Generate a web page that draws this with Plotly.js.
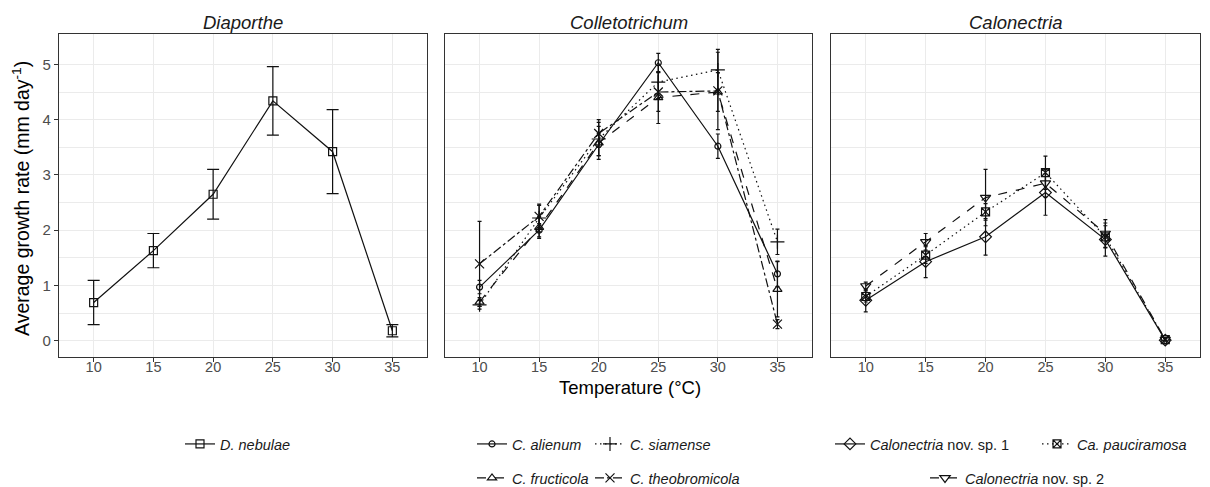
<!DOCTYPE html>
<html>
<head>
<meta charset="utf-8">
<script src="https://cdn.plot.ly/plotly-3.0.1.min.js"></script>
<style>html,body{margin:0;padding:0;background:#fff;}#chart{width:1210px;height:487px;}</style>
</head>
<body>
<div id="chart"></div>
<script>
// ---- data ----
const temps = [10, 15, 20, 25, 30, 35];
const tickVals = [10, 15, 20, 25, 30, 35];
const tickText = ['10', '15', '20', '25', '30', '35'];
const yTickVals = [0, 1, 2, 3, 4, 5];

const panelTitles = ['Diaporthe', 'Colletotrichum', 'Calonectria'];

const dNebulae = [0.69, 1.63, 2.65, 4.34, 3.42, 0.18];
const dNebulaeErr = [0.40, 0.31, 0.45, 0.62, 0.76, 0.11];

const cAlienum = [0.97, 2.00, 3.55, 5.03, 3.52, 1.21];
const cAlienumErr = [0.12, 0.12, 0.20, 0.17, 0.22, 0.23];
const cSiamense = [0.65, 2.22, 3.65, 4.68, 4.90, 1.79];
const cSiamenseErr = [0.08, 0.25, 0.30, 0.30, 0.37, 0.23];
const cFructicola = [0.70, 2.05, 3.58, 4.40, 4.50, 0.93];
const cFructicolaErr = [0.08, 0.20, 0.30, 0.47, 0.35, 0.50];
const cTheobromicola = [1.39, 2.25, 3.75, 4.50, 4.52, 0.30];
const cTheobromicolaErr = [0.77, 0.20, 0.25, 0.35, 0.70, 0.08];

const calNov1 = [0.73, 1.43, 1.88, 2.68, 1.83, 0.01];
const calNov1Err = [0.21, 0.29, 0.33, 0.41, 0.30, 0.02];
const calPauci = [0.80, 1.55, 2.33, 3.04, 1.88, 0.02];
const calPauciErr = [0.10, 0.15, 0.15, 0.30, 0.20, 0.02];
const calNov2 = [0.99, 1.79, 2.59, 2.85, 1.94, 0.02];
const calNov2Err = [0.07, 0.15, 0.51, 0.25, 0.25, 0.02];

// ---- styling ----
const FONT = 'Liberation Sans, Arial, Helvetica, sans-serif';
const DOTTED = '1.5px,3.5px';
function series(name, y, err, xa, ya, dash, symbol, msize, capw, legend, lw) {
  return {
    type: 'scatter', mode: 'lines+markers', name: name,
    x: temps, y: y, xaxis: xa, yaxis: ya, legend: legend, legendwidth: lw,
    line: {color: '#111', width: 1.2, dash: dash},
    marker: {symbol: symbol, size: msize, color: '#111', line: {color: '#111', width: 1.2}},
    error_y: {type: 'data', array: err, visible: true, color: '#111', thickness: 1.2, width: capw},
    hoverinfo: 'x+y'
  };
}

const data = [
  series('<i>D. nebulae</i>', dNebulae, dNebulaeErr, 'x', 'y', 'solid', 'square-open', 8, 6, 'legend', 110),
  series('<i>C. alienum</i>', cAlienum, cAlienumErr, 'x2', 'y2', 'solid', 'circle-open', 6, 2, 'legend2', 73),
  series('<i>C. siamense</i>', cSiamense, cSiamenseErr, 'x2', 'y2', DOTTED, 'cross-thin-open', 10, 2, 'legend2', 130),
  series('<i>C. fructicola</i>', cFructicola, cFructicolaErr, 'x2', 'y2', 'dash', 'triangle-up-open', 8, 2, 'legend3', 73),
  series('<i>C. theobromicola</i>', cTheobromicola, cTheobromicolaErr, 'x2', 'y2', 'dashdot', 'x-thin-open', 9, 2, 'legend3', 140),
  series('<i>Calonectria</i> nov. sp. 1', calNov1, calNov1Err, 'x3', 'y3', 'solid', 'diamond-open', 9, 2, 'legend4', 162),
  series('<i>Ca. pauciramosa</i>', calPauci, calPauciErr, 'x3', 'y3', DOTTED, 'square-x-open', 8, 2, 'legend4', 125),
  series('<i>Calonectria</i> nov. sp. 2', calNov2, calNov2Err, 'x3', 'y3', 'dash', 'triangle-down-open', 9, 2, 'legend5', 170)
];

const W = 1210, H = 487, ML = 59, MR = 10, MT = 34, MB = 130;
const PW = W - ML - MR, PH = H - MT - MB;
const px = v => (v - ML) / PW;
const py = v => (H - MB - v) / PH;

const domains = [[px(59), px(427)], [px(445), px(812)], [px(831), px(1200)]];

function xaxis(dom) {
  return {
    domain: dom, range: [7.1, 37.9], tickmode: 'array', tickvals: tickVals, ticktext: tickText,
    showgrid: true, gridcolor: '#ebebeb', gridwidth: 1, zeroline: false,
    showline: true, mirror: true, linecolor: '#333', linewidth: 1.2,
    ticks: 'outside', ticklen: 4, tickcolor: '#333', tickwidth: 1,
    ticklabelstandoff: -8,
    tickfont: {family: FONT, size: 14.5, color: '#4d4d4d'}
  };
}
function yaxis(showLabels, anchor) {
  return {
    anchor: anchor, range: [-0.295, 5.55], tickmode: 'array', tickvals: yTickVals,
    showticklabels: showLabels, ticks: showLabels ? 'outside' : '', ticklen: 4, tickcolor: '#333',
    showgrid: true, gridcolor: '#ebebeb', gridwidth: 1, zeroline: false,
    minor: {tickmode: 'array', tickvals: [-0.5, 0.5, 1.5, 2.5, 3.5, 4.5], showgrid: true, gridcolor: '#ebebeb', gridwidth: 1, ticks: ''},
    showline: true, mirror: true, linecolor: '#333', linewidth: 1.2,
    tickfont: {family: FONT, size: 15, color: '#4d4d4d'}
  };
}

function legendAt(x, y) {
  return {
    orientation: 'h', x: x, y: y, xanchor: 'left', yanchor: 'middle',
    entrywidthmode: 'pixels', itemwidth: 30,
    font: {family: FONT, size: 14.5, color: '#1a1a1a'}, bgcolor: 'rgba(0,0,0,0)',
    itemclick: false, itemdoubleclick: false
  };
}

const row1 = py(444), row2 = py(478);

const annotations = panelTitles.map((t, i) => ({
  text: '<i>' + t + '</i>', xref: 'paper', yref: 'paper',
  x: (domains[i][0] + domains[i][1]) / 2, y: py(22), xanchor: 'center', yanchor: 'middle',
  showarrow: false, font: {family: FONT, size: 18.5, color: '#1a1a1a'}
}));
annotations.push({
  text: 'Temperature (°C)', xref: 'paper', yref: 'paper', x: 0.5, y: py(387),
  xanchor: 'center', yanchor: 'middle', showarrow: false,
  font: {family: FONT, size: 18.5, color: '#000'}
});
annotations.push({
  text: 'Average growth rate (mm day<sup>-1</sup>)', xref: 'paper', yref: 'paper',
  x: px(21), y: py(199), xanchor: 'center', yanchor: 'middle', textangle: -90, showarrow: false,
  font: {family: FONT, size: 19.5, color: '#000'}
});

const layout = {
  width: W, height: H,
  margin: {l: ML, r: MR, t: MT, b: MB, autoexpand: false},
  paper_bgcolor: '#fff', plot_bgcolor: '#fff',
  font: {family: FONT},
  showlegend: true,
  xaxis: Object.assign(xaxis(domains[0]), {anchor: 'y'}),
  xaxis2: Object.assign(xaxis(domains[1]), {anchor: 'y2'}),
  xaxis3: Object.assign(xaxis(domains[2]), {anchor: 'y3'}),
  yaxis: yaxis(true, 'x'),
  yaxis2: Object.assign(yaxis(false, 'x2'), {matches: 'y'}),
  yaxis3: Object.assign(yaxis(false, 'x3'), {matches: 'y'}),
  legend: legendAt(px(180), row1),
  legend2: legendAt(px(472), row1),
  legend3: legendAt(px(472), row2),
  legend4: legendAt(px(830), row1),
  legend5: legendAt(px(925), row2),
  annotations: annotations
};

Plotly.newPlot('chart', data, layout, {displayModeBar: false, staticPlot: true});
</script>
</body>
</html>
